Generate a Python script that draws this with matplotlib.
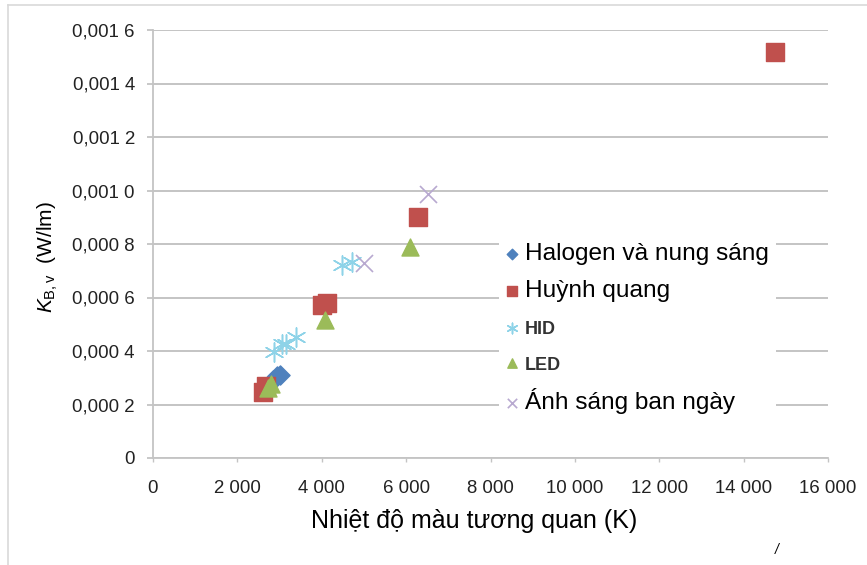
"""Scatter of K_B,v against correlated colour temperature, by lamp type."""

import matplotlib

matplotlib.use("Agg")
import matplotlib.pyplot as plt  # noqa: E402
from matplotlib.lines import Line2D  # noqa: E402
from matplotlib.ticker import FixedFormatter, FixedLocator  # noqa: E402

plt.rcParams["font.family"] = ["Liberation Sans", "DejaVu Sans"]
plt.rcParams["mathtext.fontset"] = "custom"
plt.rcParams["mathtext.rm"] = "Liberation Sans"
plt.rcParams["mathtext.it"] = "Liberation Sans:italic"

# data
HALOGEN_X = [2850, 2950, 3000]
HALOGEN_Y = [0.000290, 0.000305, 0.000312]
FLUO_X = [2610, 2680, 4000, 4120, 6280, 14740]
FLUO_Y = [0.000247, 0.000270, 0.000572, 0.000580, 0.000900, 0.001518]
HID_X = [2870, 3060, 3160, 3390, 4480, 4720]
HID_Y = [0.000397, 0.000425, 0.000428, 0.000452, 0.000723, 0.000732]
LED_X = [2730, 2790, 4080, 6090]
LED_Y = [0.000262, 0.000278, 0.000516, 0.000789]
DAYLIGHT_X = [5000, 6520]
DAYLIGHT_Y = [0.000729, 0.000987]

SERIES_LABELS = ["Halogen và nung sáng", "Huỳnh quang", "HID", "LED", "Ánh sáng ban ngày"]
X_TICKS = [0, 2000, 4000, 6000, 8000, 10000, 12000, 14000, 16000]
X_TICK_LABELS = ["0", "2 000", "4 000", "6 000", "8 000", "10 000", "12 000", "14 000", "16 000"]
Y_TICKS = [0, 0.0002, 0.0004, 0.0006, 0.0008, 0.0010, 0.0012, 0.0014, 0.0016]
Y_TICK_LABELS = ["0", "0,000 2", "0,000 4", "0,000 6", "0,000 8",
                 "0,001 0", "0,001 2", "0,001 4", "0,001 6"]

GRID = "#c4c4c4"

fig = plt.figure(figsize=(8.67, 5.65), dpi=100)
ax = fig.add_axes([153 / 867, 1 - 458 / 565, (828 - 153) / 867, (458 - 30) / 565])

ax.scatter(HALOGEN_X, HALOGEN_Y, marker="D", s=95, color="#4f81bd", zorder=3,
           label=SERIES_LABELS[0])
ax.scatter(FLUO_X, FLUO_Y, marker="s", s=150, color="#c0504d", zorder=3,
           label=SERIES_LABELS[1])
ax.scatter(HID_X, HID_Y, marker=(6, 2, 0), s=190, color="#8ed3e8", linewidths=1.1,
           zorder=3, label=SERIES_LABELS[2])
ax.scatter(LED_X, LED_Y, marker="^", s=150, color="#9bbb59", zorder=4,
           label=SERIES_LABELS[3])
ax.scatter(DAYLIGHT_X, DAYLIGHT_Y, marker="x", s=150, color="#b8a9d0", linewidths=1.2,
           zorder=3, label=SERIES_LABELS[4])

ax.set_xlim(0, 16000)
ax.set_ylim(0, 0.0016)
ax.xaxis.set_major_locator(FixedLocator(X_TICKS))
ax.xaxis.set_major_formatter(FixedFormatter(X_TICK_LABELS))
ax.yaxis.set_major_locator(FixedLocator(Y_TICKS))
ax.yaxis.set_major_formatter(FixedFormatter(Y_TICK_LABELS))
ax.tick_params(axis="x", length=3, width=1, color=GRID, labelsize=13.4, pad=13,
               labelcolor="#222222")
ax.tick_params(axis="y", length=4.5, width=1.3, color=GRID, labelsize=13.4, pad=8.5,
               labelcolor="#222222")
ax.grid(axis="y", color=GRID, linewidth=1.4)
ax.set_axisbelow(True)
for side in ("top", "right"):
    ax.spines[side].set_visible(False)
for side in ("left", "bottom"):
    ax.spines[side].set_color(GRID)
    ax.spines[side].set_linewidth(1.3)

ax.set_xlabel("Nhiệt độ màu tương quan (K)", fontsize=18)
ax.xaxis.set_label_coords(0.476, -0.118)
ax.set_ylabel(r"$K_{\mathrm{B,v}}$  (W/lm)", fontsize=15)
ax.yaxis.set_label_coords(-0.138, 0.47)

leg = ax.legend(loc="upper left", bbox_to_anchor=(499 / 867, 1 - 236 / 565),
                bbox_transform=fig.transFigure, frameon=True, framealpha=1,
                edgecolor="none", facecolor="white", fontsize=17.6,
                markerscale=0.55, handlelength=0.5, handletextpad=0.25,
                labelspacing=0.6, borderpad=0.3, borderaxespad=0)
for text in leg.get_texts():
    if text.get_text() in ("HID", "LED"):
        text.set_fontsize(13)
        text.set_fontweight("bold")
        text.set_color("#333333")

# light frame round the chart (left and top edges visible)
fig.add_artist(Line2D([8 / 867, 8 / 867], [0, 1 - 5 / 565], color="#d9d9d9", lw=1.2))
fig.add_artist(Line2D([8 / 867, 1], [1 - 5 / 565, 1 - 5 / 565], color="#d9d9d9", lw=1.2))
fig.text(777 / 867, 1 - 550 / 565, "/", fontsize=10, style="italic", ha="center", va="center")

fig.savefig("out.png", dpi=100)
